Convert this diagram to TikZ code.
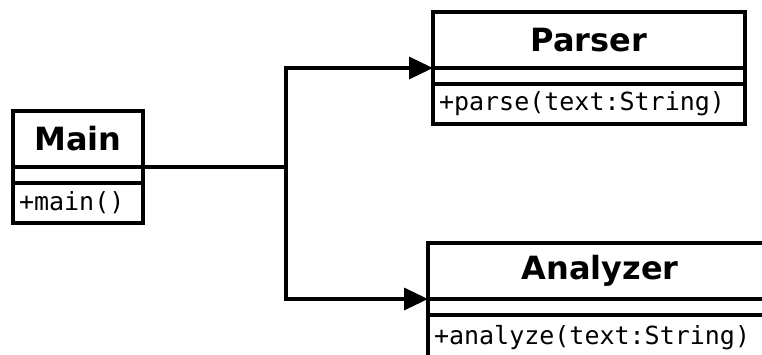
\documentclass[tikz,border=0pt]{standalone}
\usepackage{fontspec}
\newfontfamily\umlsans{DejaVu Sans}
\newfontfamily\umlmono{DejaVu Sans Mono}
\usetikzlibrary{arrows.meta}
\usetikzlibrary{positioning}
\tikzset{
  umlname/.style={draw, line width=3.5pt, outer sep=0pt, inner sep=0pt,
    minimum height=56pt, font=\umlsans\bfseries\fontsize{32}{38}\selectfont},
  umlattr/.style={draw, line width=3.5pt, outer sep=0pt, inner sep=0pt,
    minimum height=16pt},
  umlop/.style={draw, line width=3.5pt, outer sep=0pt, inner xsep=6pt,
    inner ysep=0pt, minimum height=40pt, align=left,
    font=\umlmono\fontsize{25}{30}\selectfont},
  umlarrow/.style={line width=3.5pt, -{Triangle[length=24pt,width=22pt]}},
}

\begin{document}
\begin{tikzpicture}[x=1pt,y=-1pt]
\useasboundingbox (0,0) rectangle (762,354);
\clip (0,0) rectangle (762,354);
% class Main
\node[umlname, minimum width=130pt] (main) at (78,139) {Main};
\node[umlattr, minimum width=130pt, below=0pt of main] (mainattr) {};
\node[umlop, text width=118pt, below=0pt of mainattr] (mainop) {+main()};
% class Parser
\node[umlname, minimum width=312pt] (parser) at (589,40) {Parser};
\node[umlattr, minimum width=312pt, below=0pt of parser] (parserattr) {};
\node[umlop, text width=300pt, below=0pt of parserattr] (parserop) {+parse(text:String)};
% class Analyzer (runs off the page)
\node[umlname, minimum width=344pt] (analyzer) at (600,271) {Analyzer};
\node[umlattr, minimum width=344pt, below=0pt of analyzer] (analyzerattr) {};
\node[umlop, text width=332pt, minimum height=46pt, below=0pt of analyzerattr] (analyzerop) {+analyze(text:String)};
%% Associations
\draw[umlarrow] (main.south east) -- ++(143,0) coordinate (fork) |- (parser.south west);
\draw[umlarrow] (fork) |- (analyzer.south west);
\end{tikzpicture}
\end{document}
